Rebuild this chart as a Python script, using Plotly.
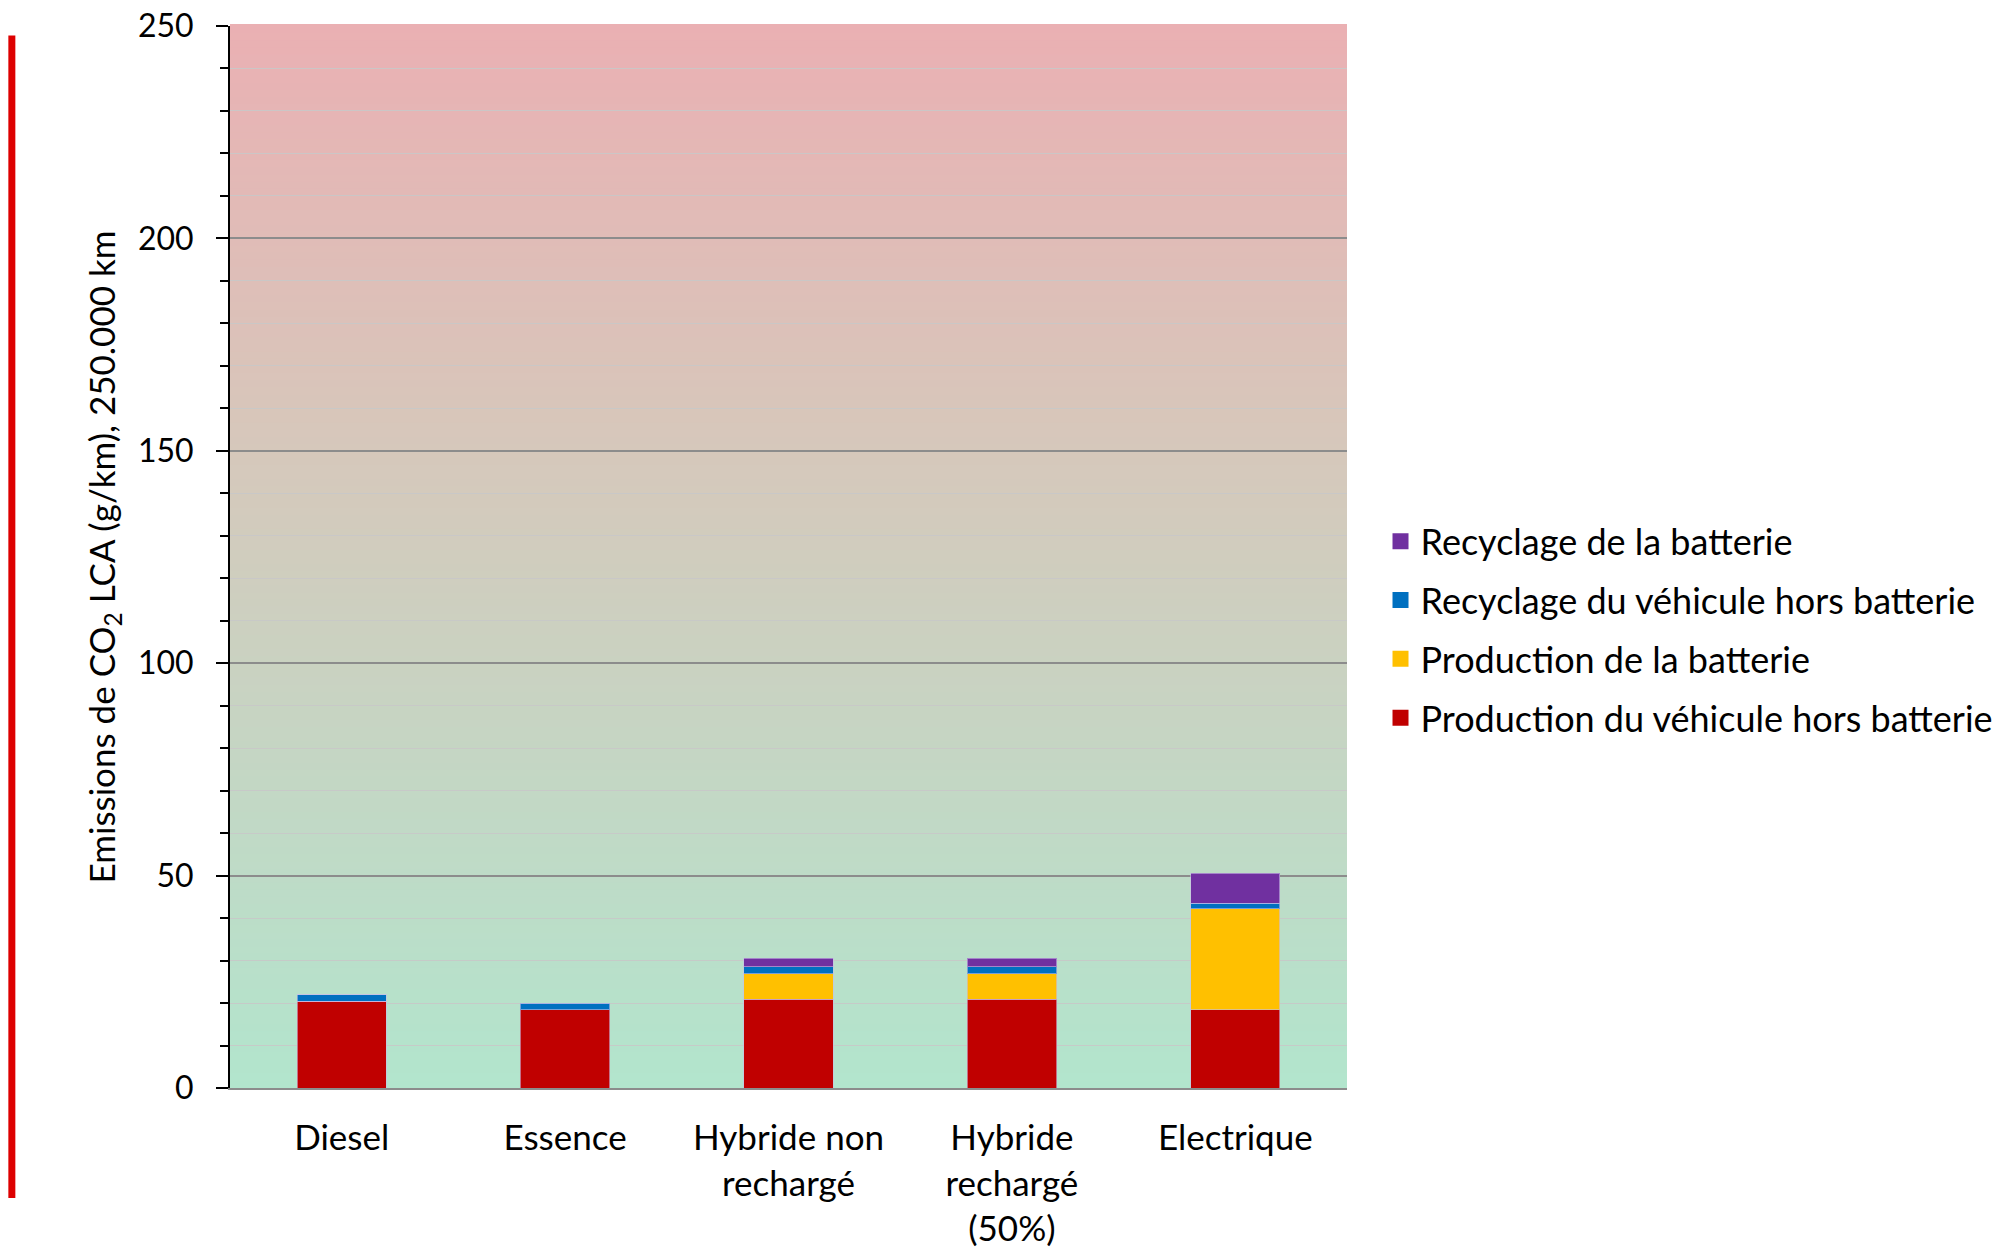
import plotly.graph_objects as go

# Vehicle types (x categories)
categories = ["Diesel", "Essence", "Hybride non<br>rechargé", "Hybride<br>rechargé<br>(50%)", "Electrique"]

# Life-cycle CO2 emissions per component, g/km over 250.000 km
prod_vehicule = [20.4, 18.4, 20.9, 20.9, 18.4]
prod_batterie = [0.0, 0.0, 6.0, 6.0, 23.8]
recyc_vehicule = [1.5, 1.5, 1.7, 1.7, 1.3]
recyc_batterie = [0.0, 0.0, 1.9, 1.9, 7.1]

series_names = [
    "Production du véhicule hors batterie",
    "Production de la batterie",
    "Recyclage du véhicule hors batterie",
    "Recyclage de la batterie",
]
series_values = [prod_vehicule, prod_batterie, recyc_vehicule, recyc_batterie]
series_colors = ["#c00000", "#ffc000", "#0070c0", "#7030a0"]

FONT = "Lato"

fig = go.Figure()
for i, (name, vals, col) in enumerate(zip(series_names, series_values, series_colors)):
    fig.add_trace(go.Bar(
        x=categories, y=vals, name=name,
        legendgroup="g%d" % i, showlegend=False,
        marker=dict(color=col, line=dict(color="rgba(200,190,230,0.6)", width=1)),
        width=0.4,
    ))
    # Legend entry with a larger square swatch
    fig.add_trace(go.Scatter(
        x=[None], y=[None], mode="markers", name=name,
        legendgroup="g%d" % i, legendrank=len(series_names) - i,
        marker=dict(symbol="square", size=16, color=col),
        hoverinfo="skip",
    ))

# Vertical colour gradient behind the plot area (red at the top, green at the bottom)
stops = [(0.0, (178, 229, 205)), (0.6, (214, 200, 187)), (1.0, (234, 176, 179))]


def grad(t):
    for (t0, c0), (t1, c1) in zip(stops[:-1], stops[1:]):
        if t0 <= t <= t1:
            f = (t - t0) / (t1 - t0)
            return tuple(round(a + (b - a) * f) for a, b in zip(c0, c1))
    return stops[-1][1]


shapes = []
n = 150
for i in range(n):
    c = grad((i + 0.5) / n)
    shapes.append(dict(
        type="rect", xref="x domain", yref="y domain",
        x0=0, x1=1, y0=i / n, y1=(i + 1) / n + 0.002,
        fillcolor="rgb(%d,%d,%d)" % c, line=dict(width=0), layer="below",
    ))

# Red vertical bar on the left margin
shapes.append(dict(
    type="line", xref="paper", yref="paper",
    x0=-0.1953, x1=-0.1953, y0=0.991, y1=-0.1035,
    line=dict(color="#dd0000", width=7),
))

fig.update_layout(
    width=2005, height=1251,
    margin=dict(l=230, r=658, t=26, b=163, autoexpand=False),
    barmode="stack",
    bargap=0.6,
    paper_bgcolor="white",
    plot_bgcolor="rgba(0,0,0,0)",
    font=dict(family=FONT, size=34, color="black"),
    shapes=shapes,
    showlegend=True,
    legend=dict(
        traceorder="grouped",
        tracegroupgap=9,
        itemsizing="trace",
        x=1.03, xanchor="left",
        y=0.543, yanchor="top",
        font=dict(family=FONT, size=36, color="black"),
        bgcolor="rgba(0,0,0,0)",
        itemwidth=30,
    ),
)

fig.update_yaxes(
    range=[0, 250],
    dtick=50,
    tick0=0,
    automargin=False,
    ticks="outside",
    ticklen=12,
    tickwidth=2,
    tickcolor="black",
    showline=True,
    linecolor="black",
    linewidth=2,
    showgrid=True,
    gridcolor="#8c8c8c",
    gridwidth=1.5,
    zeroline=False,
    tickfont=dict(family=FONT, size=32, color="black"),
    ticklabelstandoff=16,
    minor=dict(dtick=10, ticks="outside", ticklen=8, tickwidth=1.5, tickcolor="black",
               showgrid=True, gridcolor="rgba(200,200,200,0.9)", gridwidth=1),
    title=dict(text="Emissions de CO<sub>2</sub> LCA (g/km), 250.000 km",
               font=dict(family=FONT, size=35, color="black"), standoff=12),
)

fig.update_xaxes(
    automargin=False,
    showline=True,
    linecolor="#8c8c8c",
    linewidth=2,
    ticks="",
    tickfont=dict(family=FONT, size=35, color="black"),
    ticklabelstandoff=18,
    showgrid=False,
)

fig.write_html("out.html")
